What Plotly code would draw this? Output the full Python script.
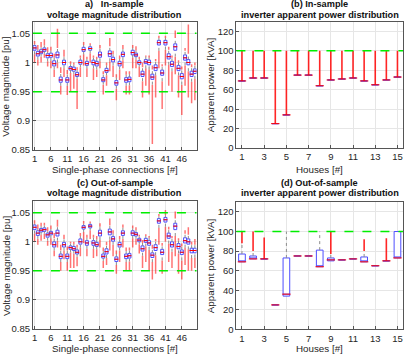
import plotly.graph_objects as go
from plotly.subplots import make_subplots

# connection indices
conn = list(range(1, 51))
houses = list(range(1, 16))

# (a) in-sample voltage magnitude [pu]
med_a = [1.025, 1.015, 1.018, 1.022, 1.012, 1.012, 0.998, 1.013, 0.970, 1.000,
         0.970, 0.990, 0.988, 0.979, 1.000, 1.022, 0.998, 1.024, 1.000, 0.998,
         1.013, 0.970, 0.986, 1.015, 1.005, 0.965, 0.998, 1.014, 0.970, 0.971,
         1.017, 1.013, 1.000, 0.980, 1.001, 1.000, 0.975, 0.991, 1.034, 0.982,
         1.034, 1.010, 0.997, 1.027, 0.990, 0.976, 1.008, 1.000, 0.980, 0.985]
q1_a = [1.021, 1.011, 1.015, 1.019, 1.008, 1.009, 0.994, 1.008, 0.966, 0.996,
        0.966, 0.987, 0.985, 0.976, 0.997, 1.019, 0.995, 1.021, 0.996, 0.994,
        1.009, 0.967, 0.983, 1.010, 1.001, 0.961, 0.994, 1.010, 0.966, 0.967,
        1.013, 1.010, 0.997, 0.976, 0.998, 0.996, 0.971, 0.986, 1.030, 0.978,
        1.030, 1.006, 0.993, 1.021, 0.986, 0.972, 1.004, 0.996, 0.976, 0.981]
q3_a = [1.029, 1.019, 1.022, 1.025, 1.015, 1.016, 1.003, 1.018, 0.975, 1.004,
        0.974, 0.993, 0.992, 0.983, 1.004, 1.026, 1.002, 1.027, 1.004, 1.002,
        1.018, 0.974, 0.990, 1.020, 1.009, 0.969, 1.002, 1.018, 0.974, 0.975,
        1.021, 1.016, 1.003, 0.985, 1.005, 1.004, 0.980, 0.996, 1.038, 0.987,
        1.038, 1.015, 1.002, 1.032, 0.995, 0.981, 1.013, 1.005, 0.985, 0.989]
wlo_a = [1.014, 1.005, 1.010, 1.015, 1.002, 1.003, 0.988, 1.000, 0.960, 0.990,
         0.960, 0.982, 0.980, 0.972, 0.992, 1.014, 0.990, 1.016, 0.990, 0.988,
         1.002, 0.962, 0.978, 1.002, 0.995, 0.955, 0.988, 1.004, 0.960, 0.961,
         1.008, 1.005, 0.993, 0.968, 0.990, 0.988, 0.962, 0.978, 1.020, 0.968,
         1.022, 0.996, 0.985, 1.010, 0.978, 0.962, 0.995, 0.985, 0.967, 0.972]
whi_a = [1.031, 1.022, 1.026, 1.029, 1.018, 1.020, 1.008, 1.025, 0.982, 1.010,
         0.980, 0.997, 0.996, 0.987, 1.008, 1.030, 1.006, 1.030, 1.008, 1.006,
         1.024, 0.980, 0.995, 1.028, 1.014, 0.974, 1.006, 1.023, 0.979, 0.980,
         1.025, 1.020, 1.006, 0.992, 1.010, 1.008, 0.988, 1.002, 1.042, 0.993,
         1.042, 1.022, 1.008, 1.042, 1.000, 0.988, 1.020, 1.015, 0.992, 0.995]
olo_a = [1.000, 0.995, 1.000, 1.008, 0.993, 0.990, 0.975, 0.990, 0.945, 0.975,
         0.944, 0.950, 0.955, 0.920, 0.975, 0.995, 0.975, 1.000, 0.970, 0.975,
         0.990, 0.945, 0.960, 0.985, 0.975, 0.935, 0.970, 0.990, 0.945, 0.945,
         0.990, 0.990, 0.975, 0.940, 0.960, 0.945, 0.860, 0.940, 0.990, 0.920,
         0.995, 0.960, 0.950, 0.980, 0.940, 0.910, 0.960, 0.940, 0.930, 0.935]
ohi_a = [1.037, 1.030, 1.035, 1.040, 1.026, 1.027, 1.015, 1.058, 0.992, 1.022,
         0.987, 1.002, 1.000, 0.992, 1.012, 1.035, 1.010, 1.033, 1.012, 1.010,
         1.030, 0.985, 1.000, 1.042, 1.020, 0.980, 1.012, 1.030, 0.985, 0.985,
         1.030, 1.028, 1.010, 1.000, 1.012, 1.012, 0.995, 1.006, 1.046, 0.997,
         1.046, 1.027, 1.012, 1.055, 1.004, 0.993, 1.025, 1.065, 0.997, 1.000]

# (c) out-of-sample voltage magnitude [pu]
med_c = [1.025, 1.015, 1.020, 1.021, 1.012, 1.015, 0.995, 1.015, 0.975, 0.995,
         0.975, 0.990, 0.988, 0.982, 1.000, 1.025, 0.998, 1.027, 0.998, 0.995,
         1.015, 0.975, 0.983, 1.017, 1.005, 0.970, 0.995, 1.015, 0.975, 0.976,
         1.015, 1.013, 1.003, 0.988, 1.002, 0.998, 0.977, 0.990, 1.036, 0.982,
         1.038, 1.010, 0.995, 1.027, 0.992, 0.982, 1.002, 1.000, 0.985, 0.985]
q1_c = [1.021, 1.011, 1.017, 1.018, 1.008, 1.012, 0.991, 1.010, 0.971, 0.991,
        0.971, 0.987, 0.985, 0.979, 0.996, 1.022, 0.994, 1.024, 0.994, 0.992,
        1.010, 0.972, 0.979, 1.012, 1.001, 0.966, 0.991, 1.011, 0.971, 0.972,
        1.011, 1.010, 1.000, 0.984, 0.999, 0.994, 0.973, 0.985, 1.032, 0.978,
        1.034, 1.006, 0.991, 1.021, 0.988, 0.978, 0.998, 0.996, 0.981, 0.981]
q3_c = [1.029, 1.019, 1.023, 1.024, 1.015, 1.018, 1.000, 1.020, 0.979, 0.999,
        0.979, 0.993, 0.992, 0.986, 1.005, 1.028, 1.002, 1.030, 1.002, 0.999,
        1.020, 0.979, 0.988, 1.022, 1.009, 0.974, 0.999, 1.019, 0.979, 0.980,
        1.019, 1.016, 1.006, 0.993, 1.006, 1.002, 0.981, 0.995, 1.040, 0.987,
        1.042, 1.015, 1.000, 1.032, 0.997, 0.986, 1.007, 1.005, 0.989, 0.989]
wlo_c = [1.014, 1.005, 1.012, 1.014, 1.002, 1.006, 0.985, 1.002, 0.965, 0.985,
         0.965, 0.982, 0.980, 0.974, 0.990, 1.017, 0.988, 1.020, 0.988, 0.987,
         1.003, 0.967, 0.972, 1.004, 0.995, 0.960, 0.985, 1.005, 0.965, 0.966,
         1.006, 1.005, 0.996, 0.976, 0.992, 0.986, 0.965, 0.977, 1.024, 0.968,
         1.026, 0.997, 0.983, 1.010, 0.980, 0.968, 0.990, 0.987, 0.972, 0.973]
whi_c = [1.031, 1.022, 1.027, 1.028, 1.018, 1.022, 1.006, 1.026, 0.985, 1.005,
         0.985, 0.997, 0.996, 0.990, 1.010, 1.031, 1.007, 1.032, 1.007, 1.004,
         1.026, 0.984, 0.994, 1.028, 1.014, 0.979, 1.004, 1.024, 0.984, 0.985,
         1.023, 1.020, 1.009, 0.998, 1.010, 1.007, 0.988, 1.001, 1.044, 0.993,
         1.046, 1.021, 1.006, 1.040, 1.002, 0.992, 1.014, 1.012, 0.995, 0.995]
olo_c = [1.000, 0.995, 1.002, 1.005, 0.993, 0.995, 0.975, 0.990, 0.950, 0.970,
         0.950, 0.955, 0.955, 0.958, 0.975, 0.998, 0.975, 1.005, 0.972, 0.975,
         0.990, 0.955, 0.960, 0.985, 0.975, 0.945, 0.965, 0.990, 0.950, 0.950,
         0.990, 0.995, 0.980, 0.955, 0.965, 0.950, 0.935, 0.945, 0.995, 0.945,
         1.000, 0.965, 0.955, 0.975, 0.945, 0.935, 0.960, 0.950, 0.950, 0.955]
ohi_c = [1.037, 1.030, 1.033, 1.033, 1.025, 1.028, 1.015, 1.038, 0.995, 1.012,
         0.992, 1.000, 1.000, 0.995, 1.015, 1.036, 1.012, 1.035, 1.012, 1.010,
         1.032, 0.990, 1.000, 1.040, 1.020, 0.985, 1.010, 1.030, 0.990, 0.990,
         1.028, 1.025, 1.012, 1.003, 1.013, 1.010, 0.995, 1.005, 1.048, 0.998,
         1.055, 1.026, 1.010, 1.052, 1.006, 0.997, 1.020, 1.025, 1.000, 1.005]

# (b) in-sample inverter apparent power [kVA]
min_b = [69, 72, 72, 25, 34, 75, 75, 64, 70, 71, 72, 69, 65, 70, 73]
max_b = [100, 100, 100, 100, 100, 100, 100, 100, 100, 100, 100, 100, 100, 100, 100]

# (d) out-of-sample inverter apparent power [kVA]
q1_d = [69, 72, 72, 25, 34, 75, 75, 64, 70, 71, 72, 69, 65, 70, 73]
med_d = [69, 72, 72, 25, 36, 75, 75, 64, 71, 71, 72, 69, 65, 70, 73]
q3_d = [77, 75, 72, 25, 73, 75, 75, 81, 73, 71, 72, 74, 65, 70, 100]
whi_d = [88, 80, 72, 25, 100, 75, 75, 100, 77, 71, 72, 80, 65, 70, 100]
ohi_d = [100, 100, 94, 25, 100, 75, 75, 100, 100, 71, 72, 92, 65, 93, 100]

v_limits = [0.95, 1.05]
p_limit = [100]

BLUE = "#4d4dff"
GRAY = "#8c8c8c"
FONT = "Liberation Sans, Arial, sans-serif"


def segs(xs, lo, hi):
    x, y = [], []
    for a, l, h in zip(xs, lo, hi):
        if h > l:
            x += [a, a, None]
            y += [l, h, None]
    return x, y


fig = make_subplots(rows=2, cols=2)


def add_boxes(row, col, xs, q1, med, q3, wlo, whi, olo, ohi, bw, msize, rw, rc):
    # red outliers below and above the whiskers
    for lo, hi in ((olo, wlo), (whi, ohi)):
        sx, sy = segs(xs, lo, hi)
        fig.add_trace(go.Scatter(x=sx, y=sy, mode="lines",
                                 line=dict(color=rc, width=rw), showlegend=False,
                                 hoverinfo="skip"), row=row, col=col)
    # dashed whiskers
    for lo, hi in ((wlo, q1), (q3, whi)):
        sx, sy = segs(xs, lo, hi)
        fig.add_trace(go.Scatter(x=sx, y=sy, mode="lines",
                                 line=dict(color=GRAY, width=1, dash="dot"),
                                 showlegend=False, hoverinfo="skip"),
                      row=row, col=col)
    fig.add_trace(go.Box(x=xs, q1=q1, median=med, q3=q3, lowerfence=q1,
                         upperfence=q3, width=bw, whiskerwidth=0,
                         line=dict(color=BLUE, width=1),
                         fillcolor="rgba(255,255,255,0.9)", boxpoints=False,
                         showlegend=False), row=row, col=col)
    fig.add_trace(go.Scatter(x=xs, y=med, mode="markers",
                             marker=dict(symbol="line-ew", size=msize,
                                         line=dict(color="red", width=1)),
                             showlegend=False), row=row, col=col)


vred = "rgba(255,0,0,0.55)"
pred = "rgba(255,0,0,0.85)"
add_boxes(1, 1, conn, q1_a, med_a, q3_a, wlo_a, whi_a, olo_a, ohi_a, 0.9, 3, 1.5, vred)
add_boxes(2, 1, conn, q1_c, med_c, q3_c, wlo_c, whi_c, olo_c, ohi_c, 0.9, 3, 1.5, vred)
add_boxes(1, 2, houses, min_b, min_b, min_b, min_b, min_b, min_b, max_b, 0.6, 6, 1.6, pred)
add_boxes(2, 2, houses, q1_d, med_d, q3_d, q1_d, whi_d, q1_d, ohi_d, 0.6, 6, 1.6, pred)

for r in (1, 2):
    for v in v_limits:
        fig.add_hline(y=v, row=r, col=1, layer="above",
                      line=dict(color="#00ee00", dash="dash", width=1.5))
    for v in p_limit:
        fig.add_hline(y=v, row=r, col=2, layer="above",
                      line=dict(color="#00ee00", dash="dash", width=1.5))

axis_style = dict(showline=True, mirror=True, linecolor="#555555", linewidth=1,
                  ticks="inside", ticklen=3, tickcolor="#555555",
                  showgrid=True, gridcolor="#e6e6e6", zeroline=False,
                  tickfont=dict(size=9.5, color="#262626", family=FONT))

H = 361.0
W = 407.0
xd_l = [32 / W, 196 / W]
xd_r = [236 / W, 403 / W]
yd_a = [1 - 152 / H, 1 - 22 / H]
yd_c = [1 - 333.5 / H, 1 - 204 / H]
yd_b = [1 - 150 / H, 1 - 22 / H]
yd_d = [1 - 334 / H, 1 - 205 / H]
vt = [0.85, 0.9, 0.95, 1, 1.05]
vtt = ["0.85", "0.9", "0.95", "1", "1.05"]

fig.update_layout(
    width=407, height=361, margin=dict(l=0, r=0, t=0, b=0),
    plot_bgcolor="white", paper_bgcolor="white", boxmode="overlay",
    font=dict(family=FONT, color="#262626"),
    xaxis=dict(domain=xd_l, range=[0.5, 50.5], tickvals=conn[::5], **axis_style),
    xaxis3=dict(domain=xd_l, range=[0.5, 50.5], tickvals=conn[::5], **axis_style),
    xaxis2=dict(domain=xd_r, range=[0.5, 15.5], tickvals=houses[::2], **axis_style),
    xaxis4=dict(domain=xd_r, range=[0.5, 15.5], tickvals=houses[::2], **axis_style),
    yaxis=dict(domain=yd_a, range=[0.85, 1.07], tickvals=vt, ticktext=vtt, **axis_style),
    yaxis3=dict(domain=yd_c, range=[0.85, 1.07], tickvals=vt, ticktext=vtt, **axis_style),
    yaxis2=dict(domain=yd_b, range=[0, 130], dtick=20, **axis_style),
    yaxis4=dict(domain=yd_d, range=[0, 130], dtick=20, **axis_style),
)

titles = [
    ("a)\u00a0\u00a0\u00a0In-sample", "voltage magnitude distribution", xd_l, 4.5),
    ("(b) In-sample", "inverter apparent power distribution", xd_r, 4.5),
    ("(c) Out-of-sample", "voltage magnitude distribution", xd_l, 185.5),
    ("(d) Out-of-sample", "inverter apparent power distribution", xd_r, 185.5),
]
for l1, l2, xd, y1 in titles:
    for txt, yp in ((l1, y1), (l2, y1 + 10.5)):
        fig.add_annotation(text="<b>" + txt + "</b>", xref="paper", yref="paper",
                           x=(xd[0] + xd[1]) / 2, y=1 - yp / H, yanchor="middle",
                           xanchor="center", showarrow=False,
                           font=dict(size=9.2, color="#111111", family=FONT))

# axis titles
ylab = [("Voltage magnitude [pu]", 5, yd_a), ("Voltage magnitude [pu]", 5, yd_c),
        ("Apparent power [kVA]", 210, yd_b), ("Apparent power [kVA]", 210, yd_d)]
for txt, xp, yd in ylab:
    fig.add_annotation(text=txt, xref="paper", yref="paper", x=xp / W,
                       y=(yd[0] + yd[1]) / 2, textangle=-90, showarrow=False,
                       xanchor="center", yanchor="middle",
                       font=dict(size=9.8, color="#262626", family=FONT))
xlab = [("Single-phase connections [#]", xd_l, 171.5), ("Single-phase connections [#]", xd_l, 353),
        ("Houses [#]", xd_r, 171.5), ("Houses [#]", xd_r, 353)]
for txt, xd, yp in xlab:
    fig.add_annotation(text=txt, xref="paper", yref="paper", x=(xd[0] + xd[1]) / 2,
                       y=1 - yp / H, showarrow=False, xanchor="center", yanchor="middle",
                       font=dict(size=9.8, color="#262626", family=FONT))

fig.write_html("out.html", config={"displayModeBar": False},
               post_script="document.body.style.margin='0px';")
